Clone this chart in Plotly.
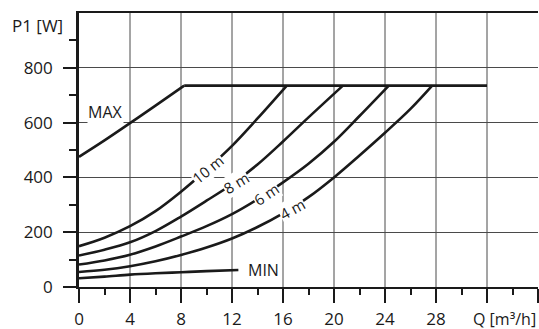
import plotly.graph_objects as go

# ---- data ----
q_max = [0, 2, 4, 6, 8.25]
p_max = [475, 535, 598, 662, 735]
q_limit = [8.25, 32]
p_limit = [735, 735]

q_10m = [0, 2, 4, 6, 8, 10, 12, 14, 16.3]
p_10m = [149, 180, 222, 277, 348, 428, 515, 615, 735]

q_8m = [0, 2, 4, 6, 8, 10, 12, 14, 16, 18, 20.7]
p_8m = [115, 136, 163, 204, 257, 315, 375, 447, 531, 619, 735]

q_6m = [0, 2, 4, 6, 8, 10, 12, 14, 16, 18, 20, 22, 24.3]
p_6m = [82, 97, 118, 148, 184, 222, 266, 320, 382, 450, 530, 624, 735]

q_4m = [0, 2, 4, 6, 8, 10, 12, 14, 16, 18, 20, 22, 24, 26, 27.7]
p_4m = [55, 63, 76, 94, 117, 144, 177, 219, 269, 328, 400, 480, 563, 650, 735]

q_min = [0, 2, 4, 6, 8, 10, 12.5]
p_min = [32, 38, 45, 50, 54, 58, 62]

x_ticks = [0, 4, 8, 12, 16, 20, 24, 28, 32, 36]
x_ticktext = ["0", "4", "8", "12", "16", "20", "24", "28", "", ""]
x_grid = [4, 8, 12, 16, 20, 24, 28, 32]
y_ticks = [0, 200, 400, 600, 800]

curve_labels = [("10 m", 10.1, 432, -39), ("8 m", 12.3, 380, -31),
                ("6 m", 14.7, 340, -34), ("4 m", 16.7, 286, -29)]

FONT = "Open Sans"
LINE = dict(color="#1a1a1a", width=2.6)

fig = go.Figure()
for qs, ps in [(q_max, p_max), (q_10m, p_10m), (q_8m, p_8m), (q_6m, p_6m),
               (q_4m, p_4m), (q_min, p_min)]:
    fig.add_trace(go.Scatter(x=qs, y=ps, mode="lines",
                             line=dict(shape="spline", smoothing=1.0, **LINE),
                             hoverinfo="skip", showlegend=False))
fig.add_trace(go.Scatter(x=q_limit, y=p_limit, mode="lines", line=LINE,
                         hoverinfo="skip", showlegend=False))

shapes = []
for gx in x_grid:
    shapes.append(dict(type="line", xref="x", yref="paper", x0=gx, x1=gx, y0=0, y1=1,
                       line=dict(color="#4a4a4a", width=1), layer="below"))

annotations = [
    dict(text="P1 [W]", xref="paper", yref="paper", x=-0.03, y=0.955,
         xanchor="right", yanchor="middle", showarrow=False,
         font=dict(family=FONT, size=17, color="#1a1a1a")),
    dict(text="Q [m³/h]", xref="paper", yref="paper", x=1.0, y=-0.118,
         xanchor="right", yanchor="middle", showarrow=False,
         font=dict(family=FONT, size=16, color="#1a1a1a")),
    dict(text="MAX", x=0.65, y=637, xanchor="left", yanchor="middle", showarrow=False,
         bgcolor="white", borderpad=0, font=dict(family=FONT, size=16, color="#1a1a1a")),
    dict(text="MIN", x=13.1, y=63, xanchor="left", yanchor="middle", showarrow=False,
         font=dict(family=FONT, size=16, color="#1a1a1a")),
]
for txt, qx, py, ang in curve_labels:
    annotations.append(dict(text=txt, x=qx, y=py, showarrow=False, textangle=ang,
                            bgcolor="white", borderpad=0,
                            font=dict(family=FONT, size=15, color="#1a1a1a")))

fig.update_layout(
    width=539, height=329,
    margin=dict(l=79, r=1, t=13, b=42, autoexpand=False),
    paper_bgcolor="white", plot_bgcolor="white",
    font=dict(family=FONT, size=17, color="#1a1a1a"),
    shapes=shapes, annotations=annotations,
    xaxis=dict(range=[0, 36], tickmode="array", tickvals=x_ticks, ticktext=x_ticktext,
               automargin=False, mirror=True,
               showgrid=False, zeroline=False, showline=True, linecolor="#1a1a1a",
               linewidth=2.4, ticks="outside", ticklen=14, tickwidth=2, tickcolor="#1a1a1a",
               ticklabelstandoff=1,
               minor=dict(dtick=2, tick0=0, ticks="outside", ticklen=6, tickwidth=1.5,
                          tickcolor="#1a1a1a", showgrid=False)),
    yaxis=dict(range=[0, 1000], tickmode="array", tickvals=y_ticks, automargin=False,
               showgrid=True, gridcolor="#4a4a4a", gridwidth=1, zeroline=False,
               showline=True, linecolor="#1a1a1a", linewidth=2.6,
               ticks="outside", ticklen=13, tickwidth=2, tickcolor="#1a1a1a",
               ticklabelstandoff=7,
               minor=dict(tickvals=[100, 300, 500, 700, 900], ticks="outside", ticklen=7,
                          tickwidth=1.5, tickcolor="#1a1a1a", showgrid=False)),
)

fig.write_html("out.html", config={"displayModeBar": False},
               post_script="document.body.style.margin='0';")
